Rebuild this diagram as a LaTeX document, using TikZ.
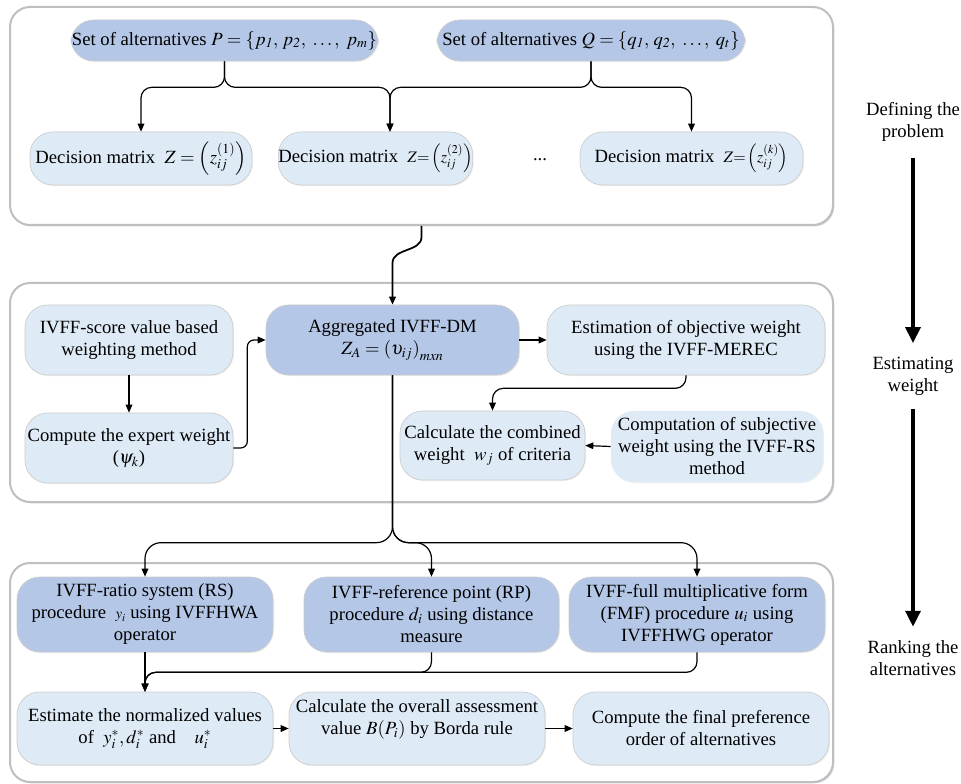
\documentclass[tikz,border=0pt]{standalone}
\usepackage{mathptmx}
\usepackage{fontspec}
\setmainfont{Liberation Serif}
\usetikzlibrary{arrows.meta,calc,shadows}
\definecolor{dkb}{HTML}{B4C7E7}
\definecolor{ltb}{HTML}{DEEBF7}
\definecolor{pgray}{HTML}{BFBFBF}
\newcommand{\fs}{\fontsize{14}{16.5}\selectfont}
\newcommand{\bx}[7]{\node[#1, minimum width={(#5-#3)*0.75pt}, minimum height={(#6-#4)*0.75pt}] (#2) at ({(#3+#5)/2},{(#4+#6)/2}) {#7};}
\tikzset{
  panel/.style={draw=pgray, line width=1.5pt, rounded corners=15pt, fill=white, inner sep=0pt,
    drop shadow={opacity=0.18, shadow xshift=1pt, shadow yshift=-1pt, fill=black!60!blue}},
  boxbase/.style={draw=pgray!80, line width=0.5pt, rounded corners=17pt, inner sep=0pt, align=center, font=\fs,
    drop shadow={opacity=0.12, shadow xshift=0.8pt, shadow yshift=-0.8pt}},
  dbox/.style={boxbase, fill=dkb},
  lbox/.style={boxbase, fill=ltb},
  arr/.style={-{Triangle[length=6pt,width=5pt]}, line width=0.9pt, rounded corners=8pt},
  bigarr/.style={-{Triangle[length=12pt,width=11pt]}, line width=3pt},
  lab/.style={align=center, font=\fs, inner sep=0pt},
}
\begin{document}
\begin{tikzpicture}[x=0.75pt,y=-0.75pt]
\useasboundingbox (0,0) rectangle (961,784);
% panels
\bx{panel}{pan1}{10}{7}{833}{225}{}
\bx{panel}{pan2}{10}{283}{833}{502}{}
\bx{panel}{pan3}{10}{563}{833}{782}{}
% panel 1 nodes
\bx{dbox}{P}{71}{20}{378}{61}{Set of alternatives $P=\{p_{\mathit{1}},\, p_{\mathit{2}},\ \ldots,\ p_m\}$}
\bx{dbox}{Q}{437}{20}{745}{61}{Set of alternatives $Q=\{q_{\mathit{1}},\, q_{\mathit{2}},\ \ldots,\ q_t\}$}
\bx{lbox}{D1}{30}{132}{252}{185}{Decision matrix\ \ $Z=\left(z_{ij}^{(1)}\right)$}
\bx{lbox}{D2}{279}{132}{472}{185}{Decision matrix\ \ {\fontsize{12}{14}\selectfont$Z{=}\left(z_{ij}^{(2)}\right)$}}
\bx{lbox}{Dk}{580}{132}{803}{185}{Decision matrix\ \ {\fontsize{12}{14}\selectfont$Z{=}\left(z_{ij}^{(k)}\right)$}}
\node[lab] (dots) at (540,160) {...};
% panel 2 nodes
\bx{lbox}{Score}{25}{305}{233}{375}{IVFF-score value based\\weighting method}
\bx{lbox}{Expert}{25}{413}{233}{483}{Compute the expert weight\\($\psi_k$)}
\bx{dbox}{Agg}{266}{305}{519}{375}{Aggregated IVFF-DM\\$Z_A=\left(\upsilon_{ij}\right)_{mxn}$}
\bx{lbox}{Est}{547}{305}{825}{375}{Estimation of objective weight\\using the IVFF-MEREC}
\bx{lbox}{Comb}{400}{411}{585}{480}{Calculate the combined\\weight\ \ $w_j$ of criteria}
\bx{lbox,draw=none}{Subj}{611}{411}{823}{482}{Computation of subjective\\weight using the IVFF-RS\\method}
% panel 3 nodes
\bx{dbox}{RS}{17}{577}{273}{652}{IVFF-ratio system (RS)\\procedure\ \ {\fontsize{11}{13}\selectfont$y_i$} using IVFFHWA\\operator}
\bx{dbox}{RP}{304}{577}{559}{652}{IVFF-reference point (RP)\\procedure $d_i$ using distance\\measure}
\bx{dbox}{FMF}{569}{577}{825}{652}{IVFF-full multiplicative form\\(FMF) procedure $u_i$ using\\IVFFHWG operator}
\bx{lbox}{Norm}{17}{692}{273}{765}{Estimate the normalized values\\of\ \ $y_i^*, d_i^*$ and\quad $u_i^*$}
\bx{lbox}{Over}{289}{692}{545}{765}{Calculate the overall assessment\\value $B(P_i)$ by Borda rule\\\mbox{}}
\bx{lbox}{Fin}{573}{692}{829}{765}{Compute the final preference\\order of alternatives}
% side labels
\node[lab] (L1) at (913,122) {Defining the\\problem};
\node[lab] (L2) at (913,376) {Estimating\\weight};
\node[lab] (L3) at (913,658) {Ranking the\\alternatives};
\draw[bigarr, shorten <=12pt, shorten >=10pt] (L1.south) -- (L2.north);
\draw[bigarr, shorten <=10pt, shorten >=10pt] (L2.south) -- (L3.north);
% panel 1 connectors
\draw[arr] (P.south) -- ++(0,26) -| (D1.north);
\draw[arr] (P.south) -- ++(0,26) -| ($(D2.north)+(14.5,0)$);
\draw[arr] (Q.south) -- ++(0,26) -| ($(D2.north)+(14.5,0)$);
\draw[arr] (Q.south) -- ++(0,26) -| (Dk.north);
% panel 1 -> aggregated
\coordinate (w1) at (421.5,237);
\coordinate (w2) at (392.5,263);
\draw[-{Triangle[length=6pt,width=5pt]}, line width=1.3pt] (pan1.south) -- (w1) .. controls (421.5,252) and (392.5,248) .. (w2) -- (Agg.north);
% panel 2 connectors
\draw[arr] (Score.south) -- (Expert.north);
\draw[arr, rounded corners=5pt] (Expert.east) -- ++(14,0) |- (Agg.west);
\draw[arr] (Agg.east) -- (Est.west);
\draw[arr] (Est.south) -- ++(0,13) -| (Comb.north);
\draw[arr] (Subj.west) -- (Comb.east);
% aggregated -> procedures
\draw[arr, rounded corners=12pt] (Agg.south) |- ($(RS.north)+(0,-34)$) -- (RS.north);
\draw[arr, rounded corners=12pt] (Agg.south) |- ($(RP.north)+(0,-34)$) -- (RP.north);
\draw[arr, rounded corners=12pt] (Agg.south) |- ($(FMF.north)+(0,-34)$) -- (FMF.north);
% panel 3 connectors
\draw[arr] (RS.south) -- (Norm.north);
\draw[arr] (RP.south) -- ++(0,20) -| (Norm.north);
\draw[arr] (FMF.south) -- ++(0,20) -| (Norm.north);
\draw[arr] (Norm.east) -- (Over.west);
\draw[arr] (Over.east) -- (Fin.west);
\end{tikzpicture}
\end{document}
